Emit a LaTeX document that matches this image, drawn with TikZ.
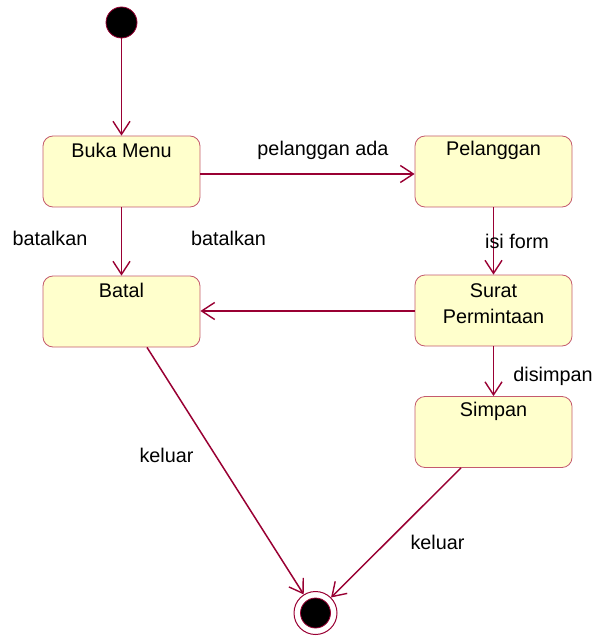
\documentclass[tikz,border=0pt]{standalone}
\usepackage{fontspec}
\setmainfont{Liberation Sans}
\usetikzlibrary{arrows.meta,calc}
\definecolor{lnc}{RGB}{153,0,51}
\definecolor{bxc}{RGB}{196,90,110}
\definecolor{fillc}{RGB}{255,255,204}
\begin{document}
\begin{tikzpicture}[x=1pt,y=-1pt,
  every node/.style={font=\fontsize{19.8}{26}\selectfont},
  statebox/.style={draw=bxc,line width=0.8pt,fill=fillc,rounded corners=10pt,
    minimum width=157pt,minimum height=71pt,inner sep=0pt},
  txt/.style={anchor=center,align=center,inner sep=0pt},
  conn/.style={draw=lnc,line width=1.5pt,-{Straight Barb[length=13pt,width=17pt,line width=1.4pt]}},
  lbl/.style={inner sep=0pt}]
\useasboundingbox (0,0) rectangle (608,636);
% start
\node[circle,fill=black,draw=lnc,line width=0.8pt,minimum size=31pt,inner sep=0pt] (start) at (121.5,22.5) {};
% states
\node[statebox,label={[txt,yshift=-15pt]north:Buka Menu}] (buka) at (121.5,171.5) {};
\node[statebox,label={[txt,yshift=-15pt]north:Pelanggan}] (pel) at (493.5,171.5) {};
\node[statebox,label={[txt,yshift=-15pt]north:Batal}] (batal) at (121.5,311.5) {};
\node[statebox,label={[txt,yshift=-29pt]north:Surat\\Permintaan}] (surat) at (493.5,310.5) {};
\node[statebox,label={[txt,yshift=-15pt]north:Simpan}] (simpan) at (493.5,432) {};
% end
\node[circle,draw=lnc,line width=1pt,minimum size=43pt,inner sep=0pt] (end) at (315.5,613) {};
\node[circle,fill=black,draw=lnc,line width=0.8pt,minimum size=30pt,inner sep=0pt] (endin) at (315.5,613) {};
% connectors
\draw[conn] (start) -- (buka);
\draw[conn] (buka.east |- 0,174) -- (pel.west |- 0,174);
\draw[conn] (buka) -- (batal);
\draw[conn] (pel) -- (surat);
\draw[conn] (surat.west |- 0,311) -- (batal.east |- 0,311);
\draw[conn] (surat) -- (simpan);
\draw[conn] ([xshift=25.5pt]batal.south) -- (end);
\draw[conn] ([xshift=-32.5pt]simpan.south) -- (end);
% labels
\node[lbl] (l1) at (323,150) {pelanggan ada};
\node[lbl] (l2) at (50,238) {batalkan};
\node[lbl] (l3) at (228.5,238) {batalkan};
\node[lbl] (l4) at (517,241) {isi form};
\node[lbl] (l5) at (553,376) {disimpan};
\node[lbl] (l6) at (166.5,455) {keluar};
\node[lbl] (l7) at (437.5,542) {keluar};
\end{tikzpicture}
\end{document}
